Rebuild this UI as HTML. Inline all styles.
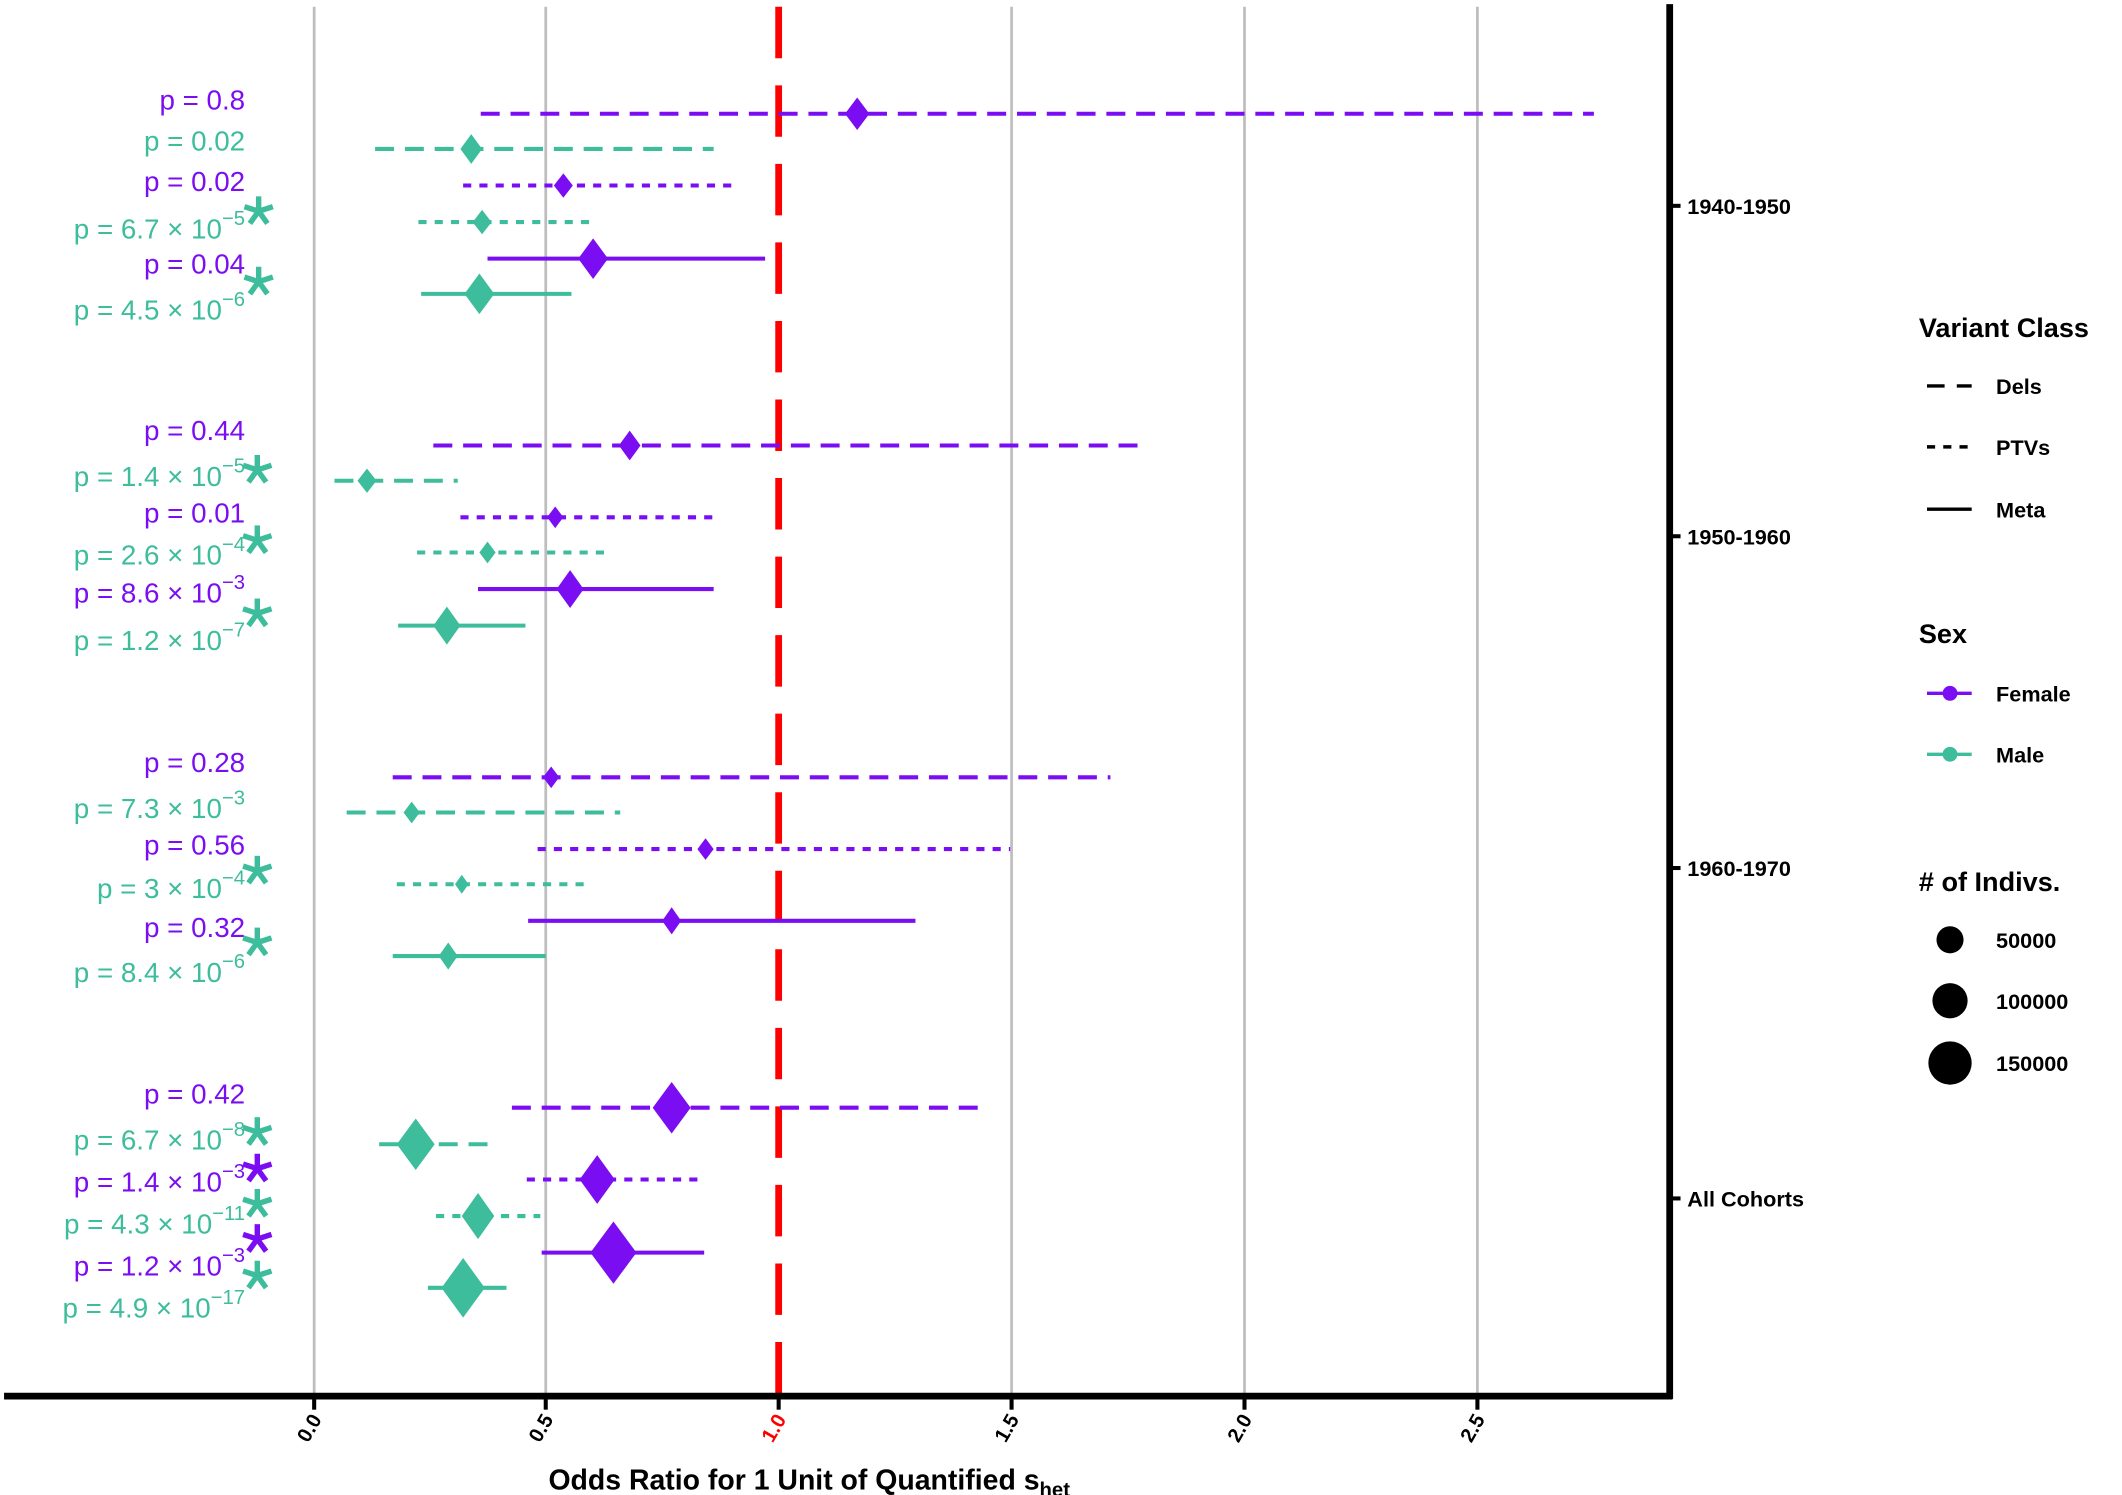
<!DOCTYPE html>
<html><head><meta charset="utf-8"><style>
html,body{margin:0;padding:0;background:#fff}
svg{display:block}
text{font-family:"Liberation Sans",sans-serif}
.p{fill:#7b0df2}.t{fill:#3dbd9c}
.lab{font-size:20.5px;text-anchor:end}
.b{font-weight:bold}
</style></head><body>
<svg width="2122" height="1495" viewBox="0 0 1567 1104" preserveAspectRatio="none" xmlns="http://www.w3.org/2000/svg">
<rect width="1567" height="1104" fill="#fff"/>
<g stroke="#bdbdbd" stroke-width="2">
<line x1="232" y1="5" x2="232" y2="1031"/><line x1="403" y1="5" x2="403" y2="1031"/>
<line x1="747" y1="5" x2="747" y2="1031"/><line x1="919" y1="5" x2="919" y2="1031"/>
<line x1="1091" y1="5" x2="1091" y2="1031"/>
</g>
<line x1="575" y1="5" x2="575" y2="1031" stroke="#f00" stroke-width="5" stroke-dasharray="38 20"/>
<line x1="3" y1="1031" x2="1235" y2="1031" stroke="#000" stroke-width="5"/>
<line x1="1233" y1="3" x2="1233" y2="1033" stroke="#000" stroke-width="5"/>
<g stroke="#000" stroke-width="3">
<line x1="232" y1="1031" x2="232" y2="1041"/><line x1="403" y1="1031" x2="403" y2="1041"/>
<line x1="575" y1="1031" x2="575" y2="1041"/><line x1="747" y1="1031" x2="747" y2="1041"/>
<line x1="919" y1="1031" x2="919" y2="1041"/><line x1="1091" y1="1031" x2="1091" y2="1041"/>
<line x1="1233" y1="152" x2="1241" y2="152"/><line x1="1233" y1="396" x2="1241" y2="396"/>
<line x1="1233" y1="641" x2="1241" y2="641"/><line x1="1233" y1="885" x2="1241" y2="885"/>
</g>
<g class="b" font-size="15">
<text transform="translate(238,1048) rotate(-60)" text-anchor="end">0.0</text>
<text transform="translate(409,1048) rotate(-60)" text-anchor="end">0.5</text>
<text transform="translate(581,1048) rotate(-60)" text-anchor="end" fill="#f00">1.0</text>
<text transform="translate(753,1048) rotate(-60)" text-anchor="end">1.5</text>
<text transform="translate(925,1048) rotate(-60)" text-anchor="end">2.0</text>
<text transform="translate(1097,1048) rotate(-60)" text-anchor="end">2.5</text>
</g>
<g class="b" font-size="16">
<text x="1246" y="158">1940-1950</text><text x="1246" y="402">1950-1960</text>
<text x="1246" y="647">1960-1970</text><text x="1246" y="891">All Cohorts</text>
</g>
<text x="405" y="1100" class="b" font-size="21">Odds Ratio for 1 Unit of Quantified s<tspan font-size="15" dy="5">het</tspan></text>

<g stroke-width="3">
<line x1="355" y1="84" x2="1177" y2="84" stroke="#7b0df2" stroke-dasharray="14 8"/>
<line x1="277" y1="110" x2="527" y2="110" stroke="#3dbd9c" stroke-dasharray="14 8"/>
<line x1="342" y1="137" x2="541" y2="137" stroke="#7b0df2" stroke-dasharray="6 6"/>
<line x1="309" y1="164" x2="437" y2="164" stroke="#3dbd9c" stroke-dasharray="6 6"/>
<line x1="360" y1="191" x2="565" y2="191" stroke="#7b0df2"/>
<line x1="311" y1="217" x2="422" y2="217" stroke="#3dbd9c"/>
<line x1="320" y1="329" x2="848" y2="329" stroke="#7b0df2" stroke-dasharray="14 8"/>
<line x1="247" y1="355" x2="338" y2="355" stroke="#3dbd9c" stroke-dasharray="14 8"/>
<line x1="340" y1="382" x2="527" y2="382" stroke="#7b0df2" stroke-dasharray="6 6"/>
<line x1="308" y1="408" x2="451" y2="408" stroke="#3dbd9c" stroke-dasharray="6 6"/>
<line x1="353" y1="435" x2="527" y2="435" stroke="#7b0df2"/>
<line x1="294" y1="462" x2="388" y2="462" stroke="#3dbd9c"/>
<line x1="290" y1="574" x2="820" y2="574" stroke="#7b0df2" stroke-dasharray="14 8"/>
<line x1="256" y1="600" x2="458" y2="600" stroke="#3dbd9c" stroke-dasharray="14 8"/>
<line x1="397" y1="627" x2="746" y2="627" stroke="#7b0df2" stroke-dasharray="6 6"/>
<line x1="293" y1="653" x2="436" y2="653" stroke="#3dbd9c" stroke-dasharray="6 6"/>
<line x1="390" y1="680" x2="676" y2="680" stroke="#7b0df2"/>
<line x1="290" y1="706" x2="403" y2="706" stroke="#3dbd9c"/>
<line x1="378" y1="818" x2="730" y2="818" stroke="#7b0df2" stroke-dasharray="14 8"/>
<line x1="280" y1="845" x2="362" y2="845" stroke="#3dbd9c" stroke-dasharray="14 8"/>
<line x1="389" y1="871" x2="517" y2="871" stroke="#7b0df2" stroke-dasharray="6 6"/>
<line x1="322" y1="898" x2="399" y2="898" stroke="#3dbd9c" stroke-dasharray="6 6"/>
<line x1="400" y1="925" x2="520" y2="925" stroke="#7b0df2"/>
<line x1="316" y1="951" x2="374" y2="951" stroke="#3dbd9c"/>
</g>
<g>
<polygon class="p" points="633,72 642,84 633,96 624,84"/>
<polygon class="t" points="348,99 356,110 348,121 340,110"/>
<polygon class="p" points="416,128 423,137 416,146 409,137"/>
<polygon class="t" points="356,155 363,164 356,173 349,164"/>
<polygon class="p" points="438,176 449,191 438,206 427,191"/>
<polygon class="t" points="354,202 365,217 354,232 343,217"/>
<polygon class="p" points="465,318 473,329 465,340 457,329"/>
<polygon class="t" points="271,346 278,355 271,364 264,355"/>
<polygon class="p" points="410,374 416,382 410,390 404,382"/>
<polygon class="t" points="360,400 366,408 360,416 354,408"/>
<polygon class="p" points="421,421 431,435 421,449 411,435"/>
<polygon class="t" points="330,448 340,462 330,476 320,462"/>
<polygon class="p" points="407,566 413,574 407,582 401,574"/>
<polygon class="t" points="304,592 310,600 304,608 298,600"/>
<polygon class="p" points="521,619 527,627 521,635 515,627"/>
<polygon class="t" points="341,646 346,653 341,660 336,653"/>
<polygon class="p" points="496,670 503,680 496,690 489,680"/>
<polygon class="t" points="331,696 338,706 331,716 324,706"/>
<polygon class="p" points="496,799 510,818 496,837 482,818"/>
<polygon class="t" points="307,826 321,845 307,864 293,845"/>
<polygon class="p" points="441,853 454,871 441,889 428,871"/>
<polygon class="t" points="353,881 365,898 353,915 341,898"/>
<polygon class="p" points="453,902 470,925 453,948 436,925"/>
<polygon class="t" points="342,929 358,951 342,973 326,951"/>
</g>

<g class="lab">
<text x="181" y="81" class="p">p = 0.8</text>
<text x="181" y="111" class="t">p = 0.02</text>
<text x="181" y="141" class="p">p = 0.02</text>
<text x="181" y="176" class="t">p = 6.7 × 10<tspan font-size="15" dy="-10">−5</tspan></text>
<text x="181" y="202" class="p">p = 0.04</text>
<text x="181" y="236" class="t">p = 4.5 × 10<tspan font-size="15" dy="-10">−6</tspan></text>
<text x="181" y="325" class="p">p = 0.44</text>
<text x="181" y="359" class="t">p = 1.4 × 10<tspan font-size="15" dy="-10">−5</tspan></text>
<text x="181" y="386" class="p">p = 0.01</text>
<text x="181" y="417" class="t">p = 2.6 × 10<tspan font-size="15" dy="-10">−4</tspan></text>
<text x="181" y="445" class="p">p = 8.6 × 10<tspan font-size="15" dy="-10">−3</tspan></text>
<text x="181" y="480" class="t">p = 1.2 × 10<tspan font-size="15" dy="-10">−7</tspan></text>
<text x="181" y="570" class="p">p = 0.28</text>
<text x="181" y="604" class="t">p = 7.3 × 10<tspan font-size="15" dy="-10">−3</tspan></text>
<text x="181" y="631" class="p">p = 0.56</text>
<text x="181" y="663" class="t">p = 3 × 10<tspan font-size="15" dy="-10">−4</tspan></text>
<text x="181" y="692" class="p">p = 0.32</text>
<text x="181" y="725" class="t">p = 8.4 × 10<tspan font-size="15" dy="-10">−6</tspan></text>
<text x="181" y="815" class="p">p = 0.42</text>
<text x="181" y="849" class="t">p = 6.7 × 10<tspan font-size="15" dy="-10">−8</tspan></text>
<text x="181" y="880" class="p">p = 1.4 × 10<tspan font-size="15" dy="-10">−3</tspan></text>
<text x="181" y="911" class="t">p = 4.3 × 10<tspan font-size="15" dy="-10">−11</tspan></text>
<text x="181" y="942" class="p">p = 1.2 × 10<tspan font-size="15" dy="-10">−3</tspan></text>
<text x="181" y="973" class="t">p = 4.9 × 10<tspan font-size="15" dy="-10">−17</tspan></text>
</g>

<defs><g id="ast" stroke-width="4" stroke-linecap="butt">
<line x1="0" y1="-11" x2="0" y2="0"/>
<line x1="0" y1="0" x2="10.5" y2="-3.4"/>
<line x1="0" y1="0" x2="-10.5" y2="-3.4"/>
<line x1="0" y1="0" x2="6.5" y2="9"/>
<line x1="0" y1="0" x2="-6.5" y2="9"/>
</g></defs>
<g stroke="#3dbd9c">
<use href="#ast" x="191" y="156"/><use href="#ast" x="191" y="208"/>
<use href="#ast" x="190" y="347"/><use href="#ast" x="190" y="399"/><use href="#ast" x="190" y="453"/>
<use href="#ast" x="190" y="643"/><use href="#ast" x="190" y="696"/>
<use href="#ast" x="190" y="836"/><use href="#ast" x="190" y="889"/><use href="#ast" x="190" y="942"/>
</g>
<g stroke="#7b0df2">
<use href="#ast" x="190" y="863"/><use href="#ast" x="190" y="915"/>
</g>

<g class="b">
<text x="1417" y="249" font-size="20">Variant Class</text>
<text x="1474" y="291" font-size="16">Dels</text>
<text x="1474" y="336" font-size="16">PTVs</text>
<text x="1474" y="382" font-size="16">Meta</text>
<text x="1417" y="475" font-size="20">Sex</text>
<text x="1474" y="518" font-size="16">Female</text>
<text x="1474" y="563" font-size="16">Male</text>
<text x="1417" y="658" font-size="20"># of Indivs.</text>
<text x="1474" y="700" font-size="16">50000</text>
<text x="1474" y="745" font-size="16">100000</text>
<text x="1474" y="791" font-size="16">150000</text>
</g>
<g stroke="#000" stroke-width="2.5">
<line x1="1423" y1="285" x2="1456" y2="285" stroke-dasharray="13 9"/>
<line x1="1423" y1="330" x2="1456" y2="330" stroke-dasharray="6 6"/>
<line x1="1423" y1="376" x2="1456" y2="376"/>
</g>
<line x1="1423" y1="512" x2="1456" y2="512" stroke="#7b0df2" stroke-width="2.5"/>
<circle cx="1440" cy="512" r="5.5" fill="#7b0df2"/>
<line x1="1423" y1="557" x2="1456" y2="557" stroke="#3dbd9c" stroke-width="2.5"/>
<circle cx="1440" cy="557" r="5.5" fill="#3dbd9c"/>
<ellipse cx="1440" cy="694" rx="10" ry="10"/>
<ellipse cx="1440" cy="739" rx="13" ry="13"/>
<ellipse cx="1440" cy="785" rx="16" ry="16"/>
</svg>
</body></html>
